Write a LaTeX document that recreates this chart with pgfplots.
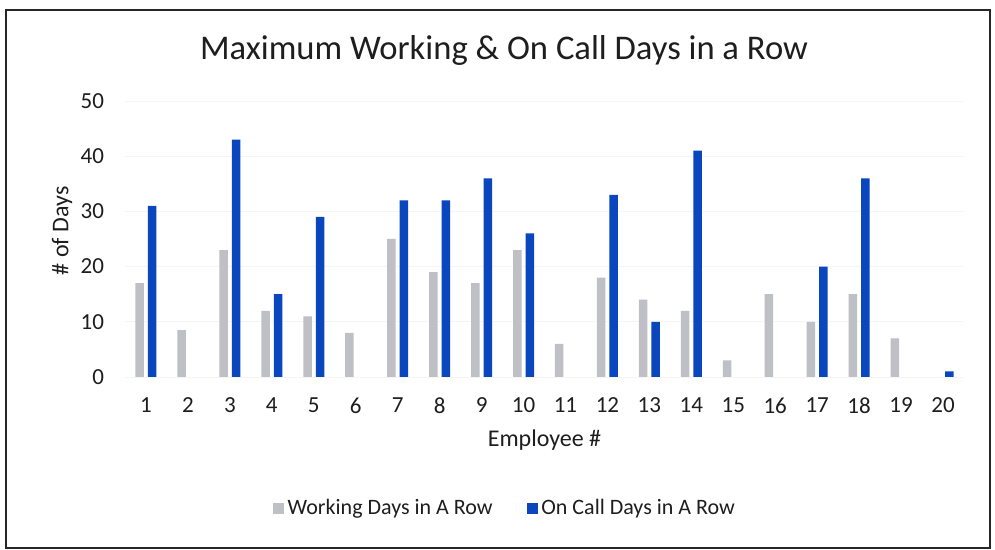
\documentclass[border=0pt]{standalone}
\usepackage{fontspec}
\setmainfont{Carlito}
\usepackage{pgfplots}
\pgfplotsset{compat=1.18}
\definecolor{workgray}{RGB}{190,192,198}
\definecolor{callblue}{RGB}{10,70,190}
\definecolor{txt}{RGB}{30,30,30}
\begin{document}
\begin{tikzpicture}[x=1pt,y=1pt]
\fill[white] (0,0) rectangle (497.5,275);
\draw[line width=1pt, black!85] (3,1) rectangle (495,270);
\node[text=txt, font=\fontsize{17.3}{21}\selectfont] at (252,250) {Maximum Working \& On Call Days in a Row};
\begin{axis}[
  at={(62.5pt,86.5pt)}, anchor=south west,
  scale only axis, width=419.5pt, height=138pt,
  ybar, bar width=4.25pt,
  xmin=0.5, xmax=20.5, ymin=0, ymax=50,
  xtick={1,...,20}, ytick={0,10,...,50},
  axis line style={draw=none},
  major tick length=0pt,
  ymajorgrids, grid style={black!4},
  /pgf/number format/assume math mode=true,
  tick label style={text=txt, font=\fontsize{11.5}{14}\selectfont},
  yticklabel style={xshift=-7pt},
  xticklabel style={yshift=-7pt},
  xlabel={Employee \#}, ylabel={\# of Days},
  label style={text=txt, font=\fontsize{12}{14}\selectfont},
  xlabel style={at={(axis description cs:0.5,-0.228)}, anchor=center},
  ylabel style={at={(axis description cs:-0.075,0.53)}, anchor=center},
  legend columns=2,
  legend style={at={(0.454,-0.475)}, anchor=center, draw=none, fill=none,
    font=\fontsize{11}{13}\selectfont, text=txt,
    /tikz/every even column/.append style={column sep=15pt}},
]
\addplot[draw=none, fill=workgray, bar shift=-3.125pt, forget plot] coordinates {
(1,17) (2,8.5) (3,23) (4,12) (5,11) (6,8) (7,25) (8,19) (9,17) (10,23)
(11,6) (12,18) (13,14) (14,12) (15,3) (16,15) (17,10) (18,15) (19,7)
};
\addplot[draw=none, fill=callblue, bar shift=3.125pt, forget plot] coordinates {
(1,31) (3,43) (4,15) (5,29) (7,32) (8,32) (9,36) (10,26)
(12,33) (13,10) (14,41) (17,20) (18,36) (20,1)
};
\addlegendimage{legend image code/.code={\fill[workgray] (0pt,-2.5pt) rectangle (5pt,2.5pt);}}
\addlegendentry{Working Days in A Row}
\addlegendimage{legend image code/.code={\fill[callblue] (0pt,-2.5pt) rectangle (5pt,2.5pt);}}
\addlegendentry{On Call Days in A Row}
\end{axis}
\end{tikzpicture}
\end{document}
